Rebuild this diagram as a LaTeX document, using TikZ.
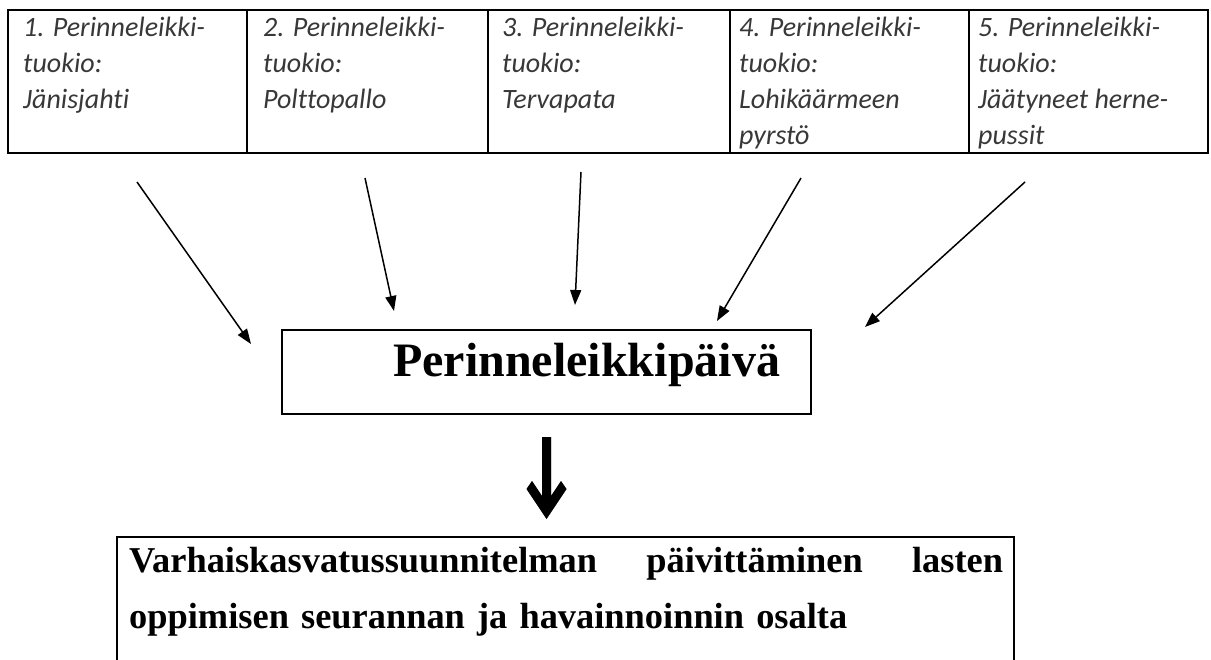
\documentclass[tikz,border=0pt]{standalone}
\usepackage{fontspec}
\setmainfont{Liberation Serif}
\newfontfamily\calibfont[Ligatures=NoCommon]{Carlito}
\usetikzlibrary{arrows.meta,calc}
\begin{document}
\begin{tikzpicture}[x=1pt,y=-1pt,
  cell/.style={draw, line width=1.6pt, rectangle, inner sep=0pt, outer sep=0pt, anchor=north west, minimum height=143},
  celltext/.style={anchor=base west, text width=226, align=flush left, inner sep=0pt, text=black!78,
    font=\calibfont\itshape\fontsize{28}{36}\selectfont},
  feed/.style={line width=1.5pt, -{Triangle[length=15pt,width=11pt]}},
  bigarrow/.style={fill=black},
  arrowshadow/.style={fill=black!45}
]
\useasboundingbox (0,0) rectangle (1211,660);
\clip (0,0) rectangle (1211,660);

% table of five components
\node[cell, minimum width=239] (c1) at (8,10) {};
\node[cell, minimum width=241] (c2) at (247,10) {};
\node[cell, minimum width=242] (c3) at (488,10) {};
\node[cell, minimum width=239] (c4) at (730,10) {};
\node[cell, minimum width=239] (c5) at (969,10) {};

\node[celltext] (t1) at (23,37) {1. Perinneleikki-\\tuokio:\\Jänisjahti};
\node[celltext] (t2) at (263,37) {2. Perinneleikki-\\tuokio:\\Polttopallo};
\node[celltext] (t3) at (502,37) {3. Perinneleikki-\\tuokio:\\Tervapata};
\node[celltext] (t4) at (739,37) {4. Perinneleikki-\\tuokio:\\Lohikäärmeen\\pyrstö};
\node[celltext] (t5) at (978,37) {5. Perinneleikki-\\tuokio:\\Jäätyneet herne-\\pussit};

% middle box
\node[draw, line width=2pt, minimum width=529, minimum height=84, text width=467,
  align=right, inner sep=0pt, text height=35pt, text depth=25pt,
  font=\bfseries\fontsize{48}{58}\selectfont] (mid) at (546.5,372) {Perinneleikkipäivä};

% arrows from the components
\coordinate (s1) at (137,182);  \coordinate (e1) at (251,344);
\coordinate (s2) at (365,178);  \coordinate (e2) at (394,311);
\coordinate (s3) at (581,172);  \coordinate (e3) at (575,305);
\coordinate (s4) at (801,178);  \coordinate (e4) at (717,321);
\coordinate (s5) at (1025,182); \coordinate (e5) at (865,327);
\draw[feed] (s1) -- (e1);
\draw[feed] (s2) -- (e2);
\draw[feed] (s3) -- (e3);
\draw[feed] (s4) -- (e4);
\draw[feed] (s5) -- (e5);

% bottom box (open below the page edge)
\node[draw, line width=1.6pt, anchor=north west, minimum width=897, minimum height=200,
  inner sep=0pt] (plan) at (116,536) {};
\node[anchor=base west, text width=874, align=left, inner sep=0pt,
  font=\bfseries\fontsize{36.4}{56}\selectfont] (plantext) at (129,572)
  {Varhaiskasvatussuunnitelman\hfill päivittäminen\hfill lasten\\oppimisen seurannan ja havainnoinnin osalta};

% thick arrow from mid to plan
\coordinate (ta) at ($(mid.south)+(0,22)$);
\coordinate (tb) at ($(plan.north -| ta)+(0,-17)$);
\begin{scope}[shift={(1.5,2.5)}]
\fill[arrowshadow] (tb) -- ($(tb)+(-20,-30)$) -- ($(tb)+(-14.5,-38)$) -- ($(tb)+(-4.5,-23)$)
  -- ($(ta)+(-4.5,0)$) -- ($(ta)+(4.5,0)$) -- ($(tb)+(4.5,-23)$) -- ($(tb)+(14.5,-38)$)
  -- ($(tb)+(20,-30)$) -- cycle;
\end{scope}
\fill[bigarrow] (tb) -- ($(tb)+(-20,-30)$) -- ($(tb)+(-14.5,-38)$) -- ($(tb)+(-4.5,-23)$)
  -- ($(ta)+(-4.5,0)$) -- ($(ta)+(4.5,0)$) -- ($(tb)+(4.5,-23)$) -- ($(tb)+(14.5,-38)$)
  -- ($(tb)+(20,-30)$) -- cycle;
\end{tikzpicture}
\end{document}
